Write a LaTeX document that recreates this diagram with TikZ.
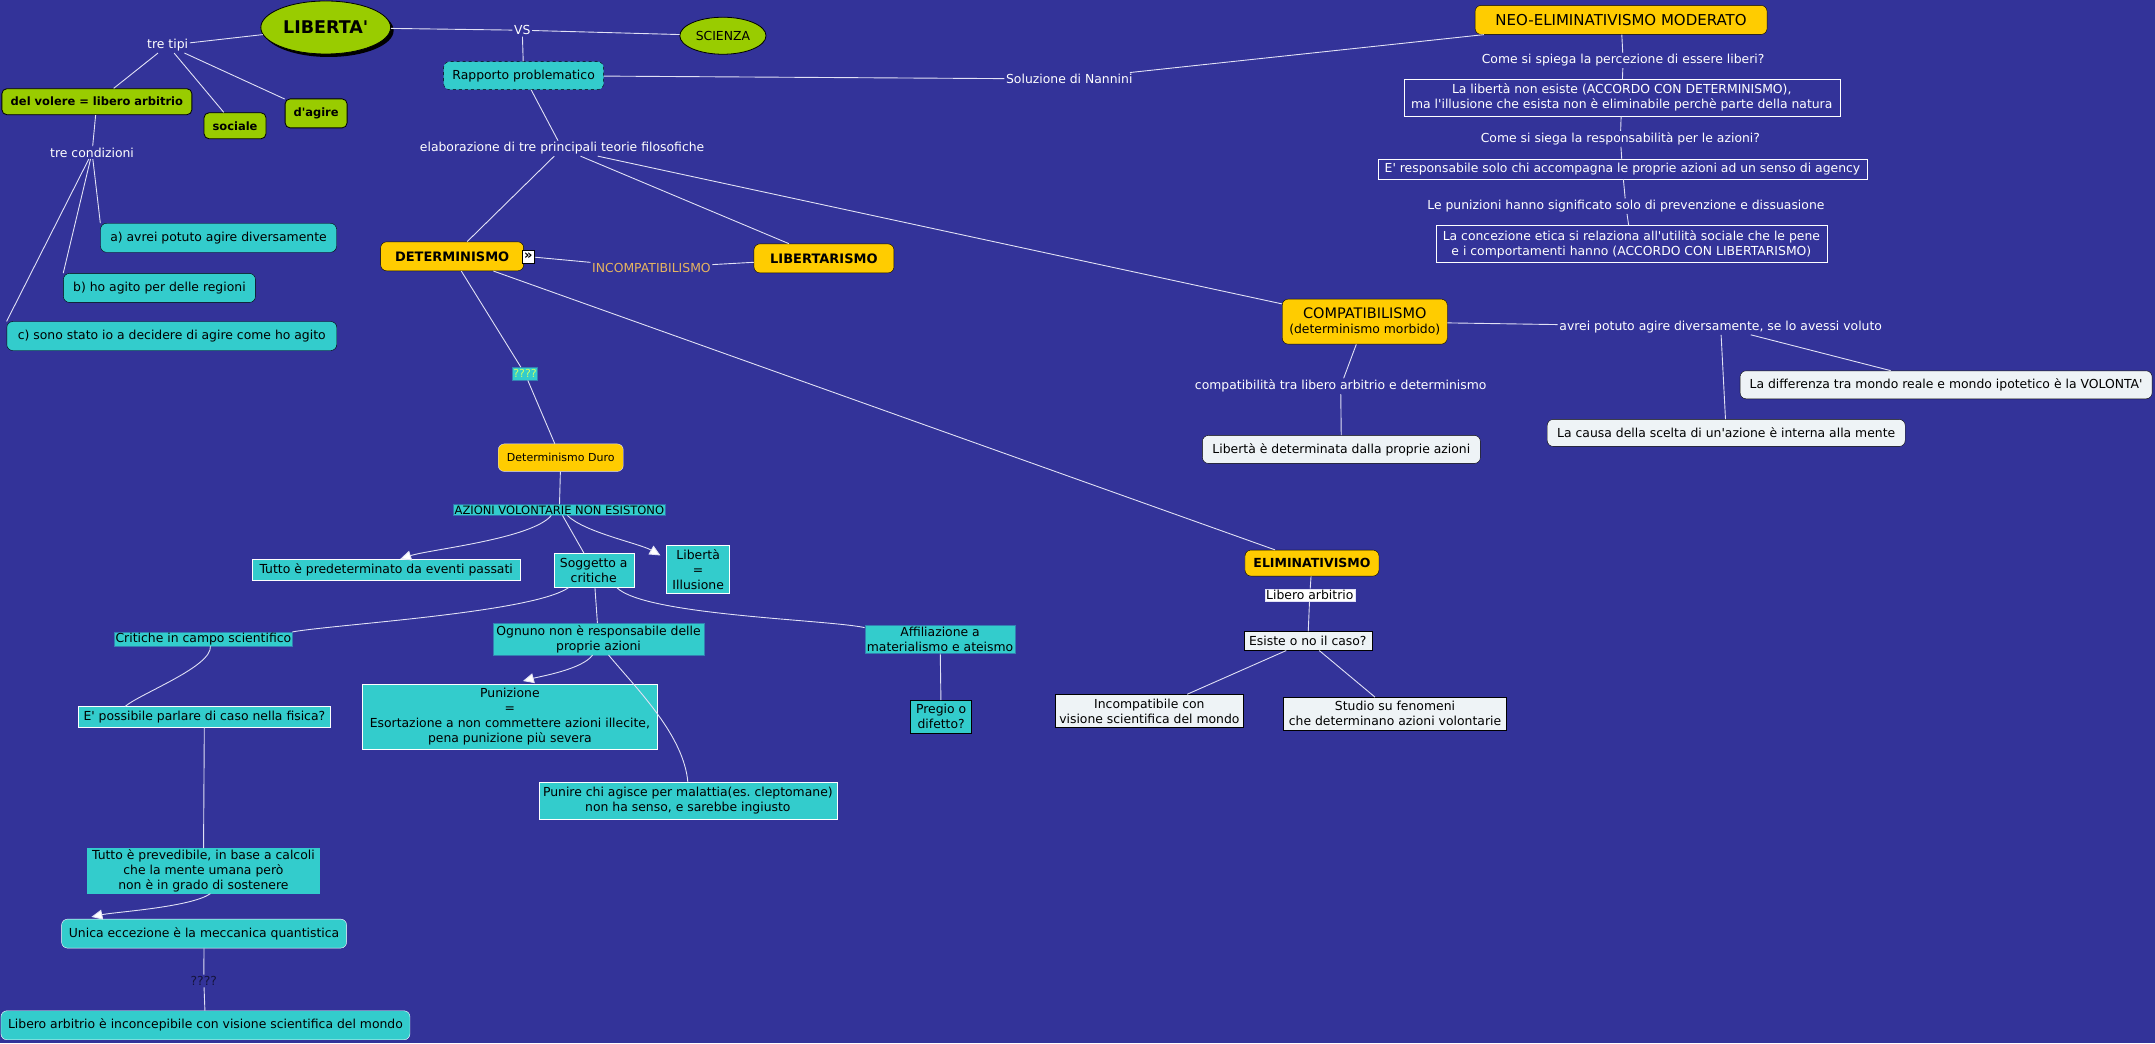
\documentclass[tikz,border=0pt]{standalone}
\usepackage{fontspec}
\setmainfont{DejaVu Sans}
\usetikzlibrary{arrows.meta,shapes.geometric,shadows}

\definecolor{mapbg}{RGB}{51,51,153}
\definecolor{mapgreen}{RGB}{153,204,0}
\definecolor{mapteal}{RGB}{51,204,204}
\definecolor{mapyellow}{RGB}{255,204,0}
\definecolor{mappale}{RGB}{238,243,246}
\definecolor{mapline}{RGB}{225,225,245}
\definecolor{maptan}{RGB}{230,180,96}
\definecolor{mapqq}{RGB}{204,255,102}
\definecolor{mapnavy}{RGB}{20,20,60}

\newcommand{\mapfont}{\fontsize{12.4}{15}\selectfont}
\newcommand{\apos}{\textquotesingle}

\begin{document}
\begin{tikzpicture}[
  x=1.3744pt, y=-1.3744pt,
  font=\mapfont,
  >={Triangle[length=11pt,width=10pt,fill=white]},
  lbl/.style={text=white, inner sep=1.5pt, align=center, font=\mapfont},
  ell/.style={ellipse, draw=black, thick, fill=mapgreen, font=\mapfont},
  gbox/.style={draw=black, thick, rounded corners=5pt, fill=mapgreen,
    font=\fontsize{11.5}{14}\selectfont\bfseries, inner sep=4pt, minimum height=26pt},
  ybox/.style={draw=black, rounded corners=6pt, fill=mapyellow, align=center, inner sep=4pt},
  cbox/.style={draw=black, rounded corners=6pt, fill=mapteal, inner xsep=6pt,
    minimum height=29pt, font=\mapfont},
  tbox/.style={draw=white, fill=mapteal, align=center, inner sep=2pt, font=\mapfont},
  wbox/.style={draw=black, rounded corners=6pt, fill=mappale, inner xsep=6pt,
    minimum height=28pt, font=\mapfont},
  pbox/.style={draw=black, fill=mappale, align=center, inner sep=2pt, font=\mapfont},
  obox/.style={draw=white, text=white, align=center, inner sep=2pt, font=\mapfont},
  conn/.style={draw=mapline, line width=0.9pt},
  arr/.style={conn, ->}
]
  \useasboundingbox (0,0) rectangle (1568,759);
  \fill[mapbg] (0,0) rectangle (1568,759);

  % libertà e i tre tipi
  \node[ell, minimum width=116pt, minimum height=53pt, font=\fontsize{17.5}{20}\selectfont\bfseries,
    drop shadow={shadow xshift=3pt, shadow yshift=-3pt, fill=black, opacity=1}] (liberta) at (237,20) {LIBERTA\apos};
  \node[ell, minimum width=73pt, minimum height=37pt] (scienza) at (526,26) {SCIENZA};
  \node[lbl] (vs) at (380,22) {VS};
  \node[lbl] (tretipi) at (122,33) {tre tipi};
  \node[gbox, minimum width=190pt] (volere) at (70.5,74) {del volere = libero arbitrio};
  \node[gbox, minimum width=62pt] (sociale) at (171,91.5) {sociale};
  \node[gbox, minimum width=62pt, minimum height=29pt] (dagire) at (230,82.5) {d\apos agire};
  \node[lbl] (trecond) at (67,111) {tre condizioni};
  \node[cbox, minimum width=236pt] (condA) at (159,173) {a) avrei potuto agire diversamente};
  \node[cbox, minimum width=192pt] (condB) at (116,209.5) {b) ho agito per delle regioni};
  \node[cbox, minimum width=330pt] (condC) at (125,244.5) {c) sono stato io a decidere di agire come ho agito};

  % rapporto e teorie
  \node[cbox, dashed, minimum width=160pt, minimum height=28pt] (rapporto) at (381,55) {Rapporto problematico};
  \node[lbl] (nannini) at (778,57.5) {Soluzione di Nannini};
  \node[lbl] (teorie) at (409,108) {elaborazione di tre principali teorie filosofiche};
  \node[ybox, minimum width=143pt, minimum height=29pt, font=\fontsize{13}{15}\selectfont\bfseries] (determ) at (329,186.5) {DETERMINISMO};
  \node[draw=black, fill=white, inner sep=0pt, minimum size=12.5pt, font=\fontsize{13}{13}\selectfont\bfseries] (detlink) at (384.5,186.7) {»};
  \node[ybox, minimum width=140pt, minimum height=29pt, font=\fontsize{13}{15}\selectfont\bfseries] (libert) at (599.5,188) {LIBERTARISMO};
  \node[lbl, text=maptan] (incomp) at (474,195) {INCOMPATIBILISMO};
  \node[ybox, minimum width=165pt, minimum height=45pt, font=\mapfont] (compat) at (993,234)
    {{\fontsize{14.5}{17}\selectfont COMPATIBILISMO}\\(determinismo morbido)};
  \node[lbl] (avrei) at (1252,238) {avrei potuto agire diversamente, se lo avessi voluto};
  \node[wbox, minimum width=412pt] (differenza) at (1416,280) {La differenza tra mondo reale e mondo ipotetico è la VOLONTA\apos};
  \node[wbox, minimum width=358pt, minimum height=27pt] (causa) at (1256,315) {La causa della scelta di un\apos azione è interna alla mente};
  \node[lbl] (compatlbl) at (975.5,281) {compatibilità tra libero arbitrio e determinismo};
  \node[wbox, minimum width=278pt] (libdet) at (976,327) {Libertà è determinata dalla proprie azioni};

  % neo-eliminativismo
  \node[ybox, minimum width=292pt, minimum height=29pt, font=\fontsize{15}{17}\selectfont] (neo) at (1179.5,14.5) {NEO-ELIMINATIVISMO MODERATO};
  \node[lbl] (perc) at (1181,44) {Come si spiega la percezione di essere liberi?};
  \node[obox, minimum width=436pt, minimum height=37pt] (illusione) at (1180,71)
    {La libertà non esiste (ACCORDO CON DETERMINISMO),\\ ma l\apos illusione che esista non è eliminabile perchè parte della natura};
  \node[lbl] (resp) at (1179,101) {Come si siega la responsabilità per le azioni?};
  \node[obox, minimum width=489pt, minimum height=20pt] (agency) at (1180.5,123) {E\apos{} responsabile solo chi accompagna le proprie azioni ad un senso di agency};
  \node[lbl] (pene) at (1183,150) {Le punizioni hanno significato solo di prevenzione e dissuasione};
  \node[obox, minimum width=391pt, minimum height=37pt] (etica) at (1187,177.5)
    {La concezione etica si relaziona all\apos utilità sociale che le pene\\ e i comportamenti hanno (ACCORDO CON LIBERTARISMO)};

  % determinismo duro
  \node[tbox, draw=mapteal!50!mapbg, text=mapqq, inner sep=1pt, minimum width=23pt, minimum height=13pt,
    font=\fontsize{11}{12}\selectfont] (qq1) at (382,272) {????};
  \node[ybox, draw=mapline, minimum width=125pt, minimum height=27.5pt, font=\fontsize{11}{13}\selectfont] (detduro) at (408,333) {Determinismo Duro};
  \node[tbox, draw=mapteal!40!mapbg, inner sep=1pt, font=\fontsize{11.5}{13}\selectfont] (azioni) at (407,371) {AZIONI VOLONTARIE NON ESISTONO};
  \node[tbox, minimum width=268pt, minimum height=21pt] (predet) at (281,414.5) {Tutto è predeterminato da eventi passati};
  \node[tbox, minimum width=80pt, minimum height=34pt] (soggetto) at (432,415) {Soggetto a\\critiche};
  \node[tbox, minimum width=63pt, minimum height=48pt] (illus) at (508,414.5) {Libertà\\=\\Illusione};
  \node[tbox, draw=mapteal!50!mapbg, inner sep=1pt, minimum width=173pt, minimum height=14pt] (critiche) at (148,465) {Critiche in campo scientifico};
  \node[tbox, draw=mapteal!50!mapbg, minimum width=211pt, minimum height=29pt] (ognuno) at (435.5,465) {Ognuno non è responsabile delle\\proprie azioni};
  \node[tbox, draw=mapteal!50!mapbg, minimum width=149pt, minimum height=28pt] (affil) at (684,465) {Affiliazione a\\materialismo e ateismo};
  \node[tbox, minimum width=252pt, minimum height=20.6pt] (epossibile) at (148.7,521.6) {E\apos{} possibile parlare di caso nella fisica?};
  \node[tbox, minimum width=295pt, minimum height=65pt] (punizione) at (371,521.5)
    {Punizione\\=\\Esortazione a non commettere azioni illecite,\\pena punizione più severa};
  \node[tbox, minimum width=298pt, minimum height=37pt] (punire) at (500.5,582.8)
    {Punire chi agisce per malattia(es.\ cleptomane)\\non ha senso, e sarebbe ingiusto};
  \node[tbox, draw=black, minimum width=61pt, minimum height=33pt] (pregio) at (684.8,521.5) {Pregio o\\difetto?};
  \node[tbox, draw=mapteal, inner sep=1pt, minimum width=232pt, minimum height=45pt] (prevedibile) at (148,633.7)
    {Tutto è prevedibile, in base a calcoli\\che la mente umana però\\non è in grado di sostenere};
  \node[cbox, draw=white, minimum width=285pt] (unica) at (148.5,679.3) {Unica eccezione è la meccanica quantistica};
  \node[lbl, text=mapnavy] (qq2) at (148.3,713.8) {????};
  \node[cbox, draw=white, minimum width=409pt] (libero) at (149.5,746) {Libero arbitrio è inconcepibile con visione scientifica del mondo};

  % eliminativismo
  \node[ybox, minimum width=134pt, minimum height=26pt, font=\fontsize{12.5}{15}\selectfont\bfseries] (elim) at (954.6,409.7) {ELIMINATIVISMO};
  \node[draw=mapline, fill=white, inner sep=0.5pt, minimum width=90pt, minimum height=12pt, font=\mapfont] (libarb) at (953,432.8) {Libero arbitrio};
  \node[pbox, minimum width=128pt, minimum height=18.7pt] (esiste) at (951.6,466.4) {Esiste o no il caso?};
  \node[pbox, minimum width=188pt, minimum height=33pt] (incompsci) at (836.3,517.3) {Incompatibile con\\visione scientifica del mondo};
  \node[pbox, minimum width=223pt, minimum height=33pt] (studio) at (1015,519.4) {Studio su fenomeni\\che determinano azioni volontarie};

  % collegamenti
  \draw[conn] (liberta) -- (vs) -- (scienza);
  \draw[conn] (vs) -- (rapporto);
  \draw[conn] (liberta) -- (tretipi);
  \draw[conn] (tretipi) -- (volere);
  \draw[conn] (tretipi) -- (sociale);
  \draw[conn] (tretipi) -- (dagire);
  \draw[conn] (volere) -- (trecond);
  \draw[conn] (trecond) -- (condA.north west);
  \draw[conn] (trecond) -- (condB.north west);
  \draw[conn] (trecond) -- (condC.north west);
  \draw[conn] (rapporto) -- (nannini) -- (neo);
  \draw[conn] (rapporto) -- (teorie);
  \draw[conn] (teorie) -- (determ);
  \draw[conn] (teorie) -- (libert);
  \draw[conn] (teorie) -- (compat);
  \draw[conn] (detlink) -- (incomp) -- (libert);
  \draw[conn] (neo) -- (perc) -- (illusione) -- (resp) -- (agency) -- (pene) -- (etica);
  \draw[conn] (compat) -- (avrei);
  \draw[conn] (avrei) -- (differenza);
  \draw[conn] (avrei) -- (causa);
  \draw[conn] (compat) -- (compatlbl) -- (libdet);
  \draw[conn] (determ) -- (qq1) -- (detduro);
  \draw[conn] (detduro) -- (azioni);
  \draw[conn] (determ) -- (elim);
  \draw[conn] (elim) -- (libarb) -- (esiste);
  \draw[conn] (esiste) -- (incompsci);
  \draw[conn] (esiste) -- (studio);

  \draw[arr] ([xshift=-8pt]azioni.south) to[out=230,in=18,looseness=0.5] ([xshift=14pt]predet.north);
  \draw[arr] ([xshift=8pt]azioni.south) to[out=-45,in=150,looseness=0.6] ([xshift=-6pt,yshift=-10pt]illus.north west);
  \draw[conn] (azioni) -- (soggetto);
  \draw[conn] ([xshift=-25pt]soggetto.south) to[out=215,in=10,looseness=0.4] (critiche.north east);
  \draw[conn] (soggetto) -- (ognuno);
  \draw[conn] ([xshift=23pt]soggetto.south) to[out=-45,in=168,looseness=0.4] ([yshift=-3pt]affil.north west);
  \draw[conn] ([xshift=7pt]critiche.south) to[out=-85,in=40,looseness=0.5] ([xshift=47pt]epossibile.north west);
  \draw[conn] (epossibile) -- (prevedibile);
  \draw[arr] ([xshift=7pt]prevedibile.south) to[out=215,in=12,looseness=0.5] ([xshift=30pt,yshift=2pt]unica.north west);
  \draw[conn] (unica) -- (qq2) -- (libero);
  \draw[arr] ([xshift=-6pt]ognuno.south) to[out=235,in=15,looseness=0.6] ([xshift=13pt,yshift=3pt]punizione.north);
  \draw[conn] ([xshift=10pt]ognuno.south) to[out=-50,in=95,looseness=0.8] (punire.north);
  \draw[conn] (affil) -- (pregio);
\end{tikzpicture}
\end{document}
